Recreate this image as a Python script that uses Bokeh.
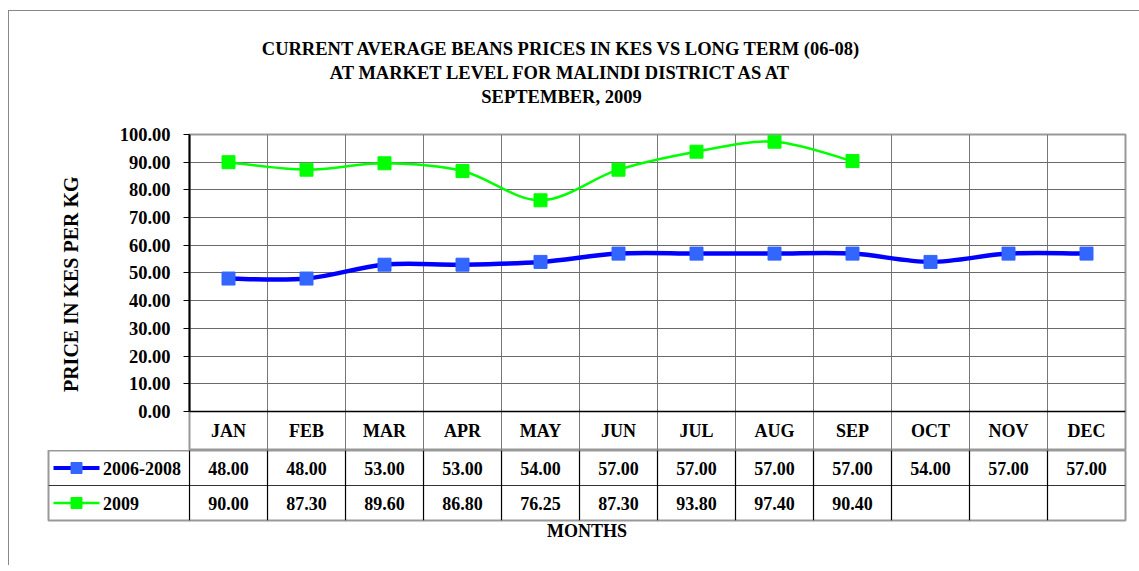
import numpy as np
from bokeh.plotting import figure
from bokeh.layouts import column, row
from bokeh.models import Range1d, FixedTicker, NumeralTickFormatter, Span
from bokeh.core.properties import value
from bokeh.embed import file_html
from bokeh.resources import INLINE

# ---------------- data ----------------
months = ["JAN", "FEB", "MAR", "APR", "MAY", "JUN", "JUL", "AUG", "SEP", "OCT", "NOV", "DEC"]
series_names = ["2006-2008", "2009"]
long_term = [48.00, 48.00, 53.00, 53.00, 54.00, 57.00, 57.00, 57.00, 57.00, 54.00, 57.00, 57.00]
prices_2009 = [90.00, 87.30, 89.60, 86.80, 76.25, 87.30, 93.80, 97.40, 90.40]
y_ticks = [0, 10, 20, 30, 40, 50, 60, 70, 80, 90, 100]
title_lines = [
    "CURRENT AVERAGE BEANS PRICES IN KES VS LONG TERM (06-08)",
    "AT MARKET LEVEL FOR MALINDI DISTRICT AS AT",
    "SEPTEMBER, 2009",
]
y_label = "PRICE IN KES PER KG"
x_label = "MONTHS"

FONT = "Liberation Serif"
BLUE_LINE = "#0000FF"
BLUE_MARK = "#3366FF"
GREEN = "#00FF00"


def smooth_segments(xs, ys, k=1.0 / 6.0):
    """Catmull-Rom style cubic Bezier segments (Excel-like smoothing)."""
    n = len(xs)
    out = dict(x0=[], y0=[], x1=[], y1=[], cx0=[], cy0=[], cx1=[], cy1=[])
    for i in range(n - 1):
        ip = max(i - 1, 0)
        inn = min(i + 2, n - 1)
        out["x0"].append(xs[i]); out["y0"].append(ys[i])
        out["x1"].append(xs[i + 1]); out["y1"].append(ys[i + 1])
        out["cx0"].append(xs[i] + (xs[i + 1] - xs[ip]) * k)
        out["cy0"].append(ys[i] + (ys[i + 1] - ys[ip]) * k)
        out["cx1"].append(xs[i + 1] - (xs[inn] - xs[i]) * k)
        out["cy1"].append(ys[i + 1] - (ys[inn] - ys[i]) * k)
    return out


def blank_fig(w, h):
    f = figure(width=w, height=h, x_range=Range1d(0, w), y_range=Range1d(0, h),
               output_backend="svg", toolbar_location=None,
               min_border_left=0, min_border_right=0, min_border_top=0, min_border_bottom=0)
    f.axis.visible = False
    f.grid.visible = False
    f.outline_line_color = None
    return f


xpos = list(range(1, len(months) + 1))
x09 = xpos[: len(prices_2009)]
TXT = dict(text_font=value(FONT), text_font_style="bold", text_color="black")

# ---------------- title block ----------------
tf = blank_fig(1130, 113)
tf.text(x=[552, 552, 552], y=[76, 52, 28], text=title_lines, text_align="center",
        text_baseline="middle", text_font_size="18.5px", **TXT)

# ---------------- y-axis title block ----------------
yf = blank_fig(100, 326)
yf.text(x=[61], y=[171.5], text=[y_label], angle=np.pi / 2, text_align="center",
        text_baseline="middle", text_font_size="20px", **TXT)

# ---------------- chart ----------------
p = figure(width=1030, height=326, x_range=Range1d(0.5, 12.5), y_range=Range1d(-14.08, 100),
           output_backend="svg", toolbar_location=None,
           min_border_left=80, min_border_right=14, min_border_top=10, min_border_bottom=0)
p.title = None
p.xaxis.visible = False
p.yaxis.ticker = FixedTicker(ticks=y_ticks)
p.yaxis.formatter = NumeralTickFormatter(format="0.00")
p.yaxis.bounds = (0, 100)
p.yaxis.axis_line_color = "black"
p.yaxis.axis_line_width = 2
p.yaxis.major_tick_out = 6
p.yaxis.major_tick_in = 0
p.yaxis.minor_tick_line_color = None
p.yaxis.major_tick_line_color = "black"
p.yaxis.major_label_standoff = 13
p.yaxis.major_label_text_font = FONT
p.yaxis.major_label_text_font_size = "18.5px"
p.yaxis.major_label_text_font_style = "bold"
p.yaxis.major_label_text_color = "black"

p.ygrid.ticker = FixedTicker(ticks=y_ticks[1:-1])
p.ygrid.grid_line_color = "#6a6a6a"
p.ygrid.grid_line_width = 1
p.xgrid.ticker = FixedTicker(ticks=[x - 0.5 for x in xpos] + [12.5])
p.xgrid.grid_line_color = "#777777"
p.xgrid.grid_line_width = 1
p.outline_line_color = "#999999"
p.outline_line_width = 2

p.add_layout(Span(location=0, dimension="width", line_color="black", line_width=1.5))

# month header row
p.text(x=xpos, y=[-6.9] * len(months), text=months, text_align="center", text_baseline="middle",
       text_font_size="18px", **TXT)

# series
s1 = smooth_segments(xpos, long_term)
p.bezier(x0="x0", y0="y0", x1="x1", y1="y1", cx0="cx0", cy0="cy0", cx1="cx1", cy1="cy1",
         source=s1, line_color=BLUE_LINE, line_width=4.5)
p.scatter(xpos, long_term, marker="square", size=13, fill_color=BLUE_MARK, line_color=BLUE_MARK)

s2 = smooth_segments(x09, prices_2009)
p.bezier(x0="x0", y0="y0", x1="x1", y1="y1", cx0="cx0", cy0="cy0", cx1="cx1", cy1="cy1",
         source=s2, line_color=GREEN, line_width=2.5)
p.scatter(x09, prices_2009, marker="square", size=13, fill_color=GREEN, line_color=GREEN)

# ---------------- data table ----------------
tb = figure(width=1130, height=115, x_range=Range1d(-1.308, 12.5), y_range=Range1d(0, 2),
            output_backend="svg", toolbar_location=None,
            min_border_left=39, min_border_right=14, min_border_top=0, min_border_bottom=45)
tb.yaxis.visible = False
tb.grid.visible = False
tb.xaxis.ticker = FixedTicker(ticks=[])
tb.xaxis.axis_line_color = None
tb.xaxis.major_tick_line_color = None
tb.xaxis.minor_tick_line_color = None
tb.xaxis.axis_label = x_label
tb.xaxis.axis_label_text_font = FONT
tb.xaxis.axis_label_text_font_size = "18px"
tb.xaxis.axis_label_text_font_style = "bold"
tb.xaxis.axis_label_text_color = "black"
tb.xaxis.axis_label_standoff = 0
tb.outline_line_color = "#999999"
tb.outline_line_width = 2

# table lines
tb.segment(x0=[-1.308], y0=[1], x1=[12.5], y1=[1], line_color="#333333", line_width=1.2)
bounds_x = [x - 0.5 for x in xpos]
tb.segment(x0=bounds_x, y0=[0] * len(bounds_x), x1=bounds_x, y1=[2] * len(bounds_x),
           line_color="black", line_width=1.2)

row_y = [1.5, 0.5]
tb.text(x=xpos, y=[row_y[0]] * len(xpos), text=["%.2f" % v for v in long_term],
        text_align="center", text_baseline="middle", text_font_size="18px", **TXT)
tb.text(x=x09, y=[row_y[1]] * len(x09), text=["%.2f" % v for v in prices_2009],
        text_align="center", text_baseline="middle", text_font_size="18px", **TXT)

# legend keys
tb.segment(x0=[-1.244], y0=[row_y[0]], x1=[-0.654], y1=[row_y[0]], line_color=BLUE_LINE, line_width=4)
tb.scatter([-0.949], [row_y[0]], marker="square", size=11, fill_color=BLUE_MARK, line_color=BLUE_MARK)
tb.segment(x0=[-1.244], y0=[row_y[1]], x1=[-0.654], y1=[row_y[1]], line_color=GREEN, line_width=2.5)
tb.scatter([-0.949], [row_y[1]], marker="square", size=11, fill_color=GREEN, line_color=GREEN)
tb.text(x=[-0.61, -0.61], y=row_y, text=series_names, text_align="left", text_baseline="middle",
        text_font_size="18px", **TXT)

layout = column(row(tf), row(yf, p, spacing=0), row(tb), spacing=0,
                styles={"margin-left": "8px", "margin-top": "10px",
                        "border-left": "1px solid #888888", "border-top": "1px solid #888888"})

with open("out.html", "w") as f:
    f.write(file_html(layout, INLINE))
